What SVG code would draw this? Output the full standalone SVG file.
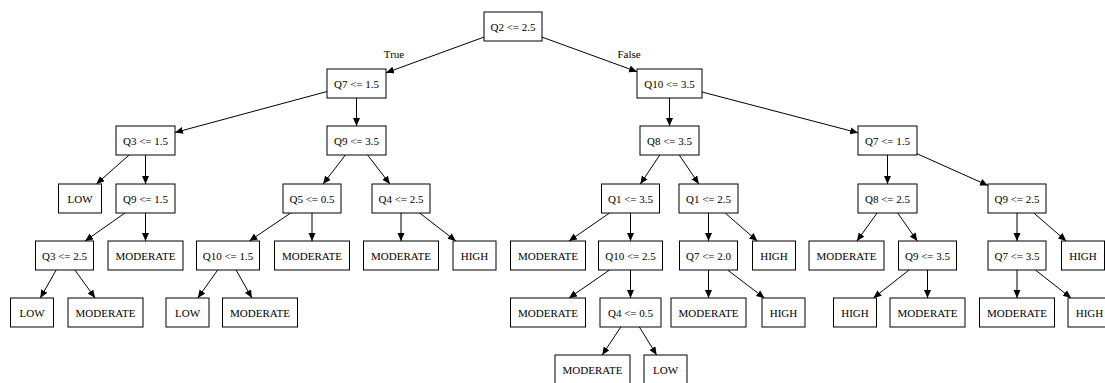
<svg xmlns="http://www.w3.org/2000/svg" width="1105" height="383" viewBox="0 0 1105 383">
  <style>
    .node rect { fill: #ffffff; stroke: #000000; stroke-width: 1; }
    .node text { font-family: "Liberation Serif", "Times New Roman", serif; font-size: 11px; fill: #000000; text-anchor: middle; }
    .edges line { stroke: #000000; stroke-width: 1; marker-end: url(#arrow); }
    .edges text { font-family: "Liberation Serif", "Times New Roman", serif; font-size: 11px; fill: #000000; text-anchor: middle; }
  </style>
  <defs>
    <marker id="arrow" markerUnits="userSpaceOnUse" markerWidth="9" markerHeight="8" refX="8" refY="3.5" orient="auto">
      <path d="M0,0 L8,3.5 L0,7 Z" fill="#000000"/>
    </marker>
  </defs>
  <rect x="0" y="0" width="1105" height="383" fill="#ffffff"/>

  <g id="edges" class="edges">
    <line x1="484" y1="37.1" x2="386" y2="72.8"/>
    <line x1="542" y1="37.1" x2="637" y2="71.7"/>
    <text x="394" y="58">True</text>
    <text x="629" y="58">False</text>
    <line x1="327" y1="91.5" x2="175" y2="132.5"/>
    <line x1="356.5" y1="98" x2="356.5" y2="126"/>
    <line x1="669.5" y1="98" x2="669.5" y2="126"/>
    <line x1="702" y1="92" x2="858" y2="132.8"/>
    <line x1="129.1" y1="155" x2="96.4" y2="184"/>
    <line x1="145.5" y1="155" x2="145.5" y2="184"/>
    <line x1="345.4" y1="155" x2="323.1" y2="184"/>
    <line x1="367.6" y1="155" x2="389.9" y2="184"/>
    <line x1="659.8" y1="155" x2="640.3" y2="184"/>
    <line x1="679.3" y1="155" x2="698.8" y2="184"/>
    <line x1="887.5" y1="155" x2="887.5" y2="184"/>
    <line x1="917" y1="153.7" x2="988" y2="185.5"/>
    <line x1="124.9" y1="213" x2="85.1" y2="241"/>
    <line x1="145.5" y1="213" x2="145.5" y2="241"/>
    <line x1="290.6" y1="213" x2="249.4" y2="241"/>
    <line x1="312" y1="213" x2="312" y2="241"/>
    <line x1="401" y1="213" x2="401" y2="241"/>
    <line x1="419.7" y1="213" x2="455.8" y2="241"/>
    <line x1="609.5" y1="213" x2="569" y2="241"/>
    <line x1="630.5" y1="213" x2="630.5" y2="241"/>
    <line x1="708.5" y1="213" x2="708.5" y2="241"/>
    <line x1="725.2" y1="213" x2="757.3" y2="241"/>
    <line x1="877.1" y1="213" x2="856.9" y2="241"/>
    <line x1="897.7" y1="213" x2="917.3" y2="241"/>
    <line x1="1017" y1="213" x2="1017" y2="241"/>
    <line x1="1033.8" y1="213" x2="1066.2" y2="241"/>
    <line x1="56.2" y1="270" x2="40.3" y2="298"/>
    <line x1="74.9" y1="270" x2="95.1" y2="298"/>
    <line x1="217.7" y1="270" x2="197.8" y2="298"/>
    <line x1="236.1" y1="270" x2="251.9" y2="298"/>
    <line x1="609.5" y1="270" x2="569" y2="298"/>
    <line x1="630.5" y1="270" x2="630.5" y2="298"/>
    <line x1="708.5" y1="270" x2="708.5" y2="298"/>
    <line x1="727.6" y1="270" x2="764.4" y2="298"/>
    <line x1="909.1" y1="270" x2="873.4" y2="298"/>
    <line x1="927.5" y1="270" x2="927.5" y2="298"/>
    <line x1="1017" y1="270" x2="1017" y2="298"/>
    <line x1="1035.4" y1="270" x2="1071.1" y2="298"/>
    <line x1="620.8" y1="327" x2="602.2" y2="355"/>
    <line x1="639.4" y1="327" x2="656.6" y2="355"/>
  </g>

  <!-- level 0 -->
  <g id="n0" class="node"><rect x="484" y="12" width="58" height="29"/><text x="513" y="30.5">Q2 &lt;= 2.5</text></g>
  <!-- level 1 -->
  <g id="n1" class="node"><rect x="327" y="69" width="59" height="29"/><text x="356.5" y="87.5">Q7 &lt;= 1.5</text></g>
  <g id="n2" class="node"><rect x="637" y="69" width="65" height="29"/><text x="669.5" y="87.5">Q10 &lt;= 3.5</text></g>
  <!-- level 2 -->
  <g id="n3" class="node"><rect x="116" y="126" width="59" height="29"/><text x="145.5" y="144.5">Q3 &lt;= 1.5</text></g>
  <g id="n4" class="node"><rect x="327" y="126" width="59" height="29"/><text x="356.5" y="144.5">Q9 &lt;= 3.5</text></g>
  <g id="n5" class="node"><rect x="640" y="126" width="59" height="29"/><text x="669.5" y="144.5">Q8 &lt;= 3.5</text></g>
  <g id="n6" class="node"><rect x="858" y="126" width="59" height="29"/><text x="887.5" y="144.5">Q7 &lt;= 1.5</text></g>
  <!-- level 3 -->
  <g id="n7" class="node"><rect x="58.5" y="184" width="43" height="29"/><text x="80" y="202.5">LOW</text></g>
  <g id="n8" class="node"><rect x="116" y="184" width="59" height="29"/><text x="145.5" y="202.5">Q9 &lt;= 1.5</text></g>
  <g id="n9" class="node"><rect x="283" y="184" width="58" height="29"/><text x="312" y="202.5">Q5 &lt;= 0.5</text></g>
  <g id="n10" class="node"><rect x="372" y="184" width="58" height="29"/><text x="401" y="202.5">Q4 &lt;= 2.5</text></g>
  <g id="n11" class="node"><rect x="601.5" y="184" width="58" height="29"/><text x="630.5" y="202.5">Q1 &lt;= 3.5</text></g>
  <g id="n12" class="node"><rect x="679" y="184" width="59" height="29"/><text x="708.5" y="202.5">Q1 &lt;= 2.5</text></g>
  <g id="n13" class="node"><rect x="858" y="184" width="59" height="29"/><text x="887.5" y="202.5">Q8 &lt;= 2.5</text></g>
  <g id="n14" class="node"><rect x="988" y="184" width="58" height="29"/><text x="1017" y="202.5">Q9 &lt;= 2.5</text></g>
  <!-- level 4 -->
  <g id="n15" class="node"><rect x="35.5" y="241" width="58" height="29"/><text x="64.5" y="259.5">Q3 &lt;= 2.5</text></g>
  <g id="n16" class="node"><rect x="108" y="241" width="75" height="29"/><text x="145.5" y="259.5">MODERATE</text></g>
  <g id="n17" class="node"><rect x="196.5" y="241" width="63" height="29"/><text x="228" y="259.5">Q10 &lt;= 1.5</text></g>
  <g id="n18" class="node"><rect x="274.5" y="241" width="75" height="29"/><text x="312" y="259.5">MODERATE</text></g>
  <g id="n19" class="node"><rect x="363.5" y="241" width="75" height="29"/><text x="401" y="259.5">MODERATE</text></g>
  <g id="n20" class="node"><rect x="453" y="241" width="43" height="29"/><text x="474.5" y="259.5">HIGH</text></g>
  <g id="n21" class="node"><rect x="510.5" y="241" width="75" height="29"/><text x="548" y="259.5">MODERATE</text></g>
  <g id="n22" class="node"><rect x="598.5" y="241" width="64" height="29"/><text x="630.5" y="259.5">Q10 &lt;= 2.5</text></g>
  <g id="n23" class="node"><rect x="679.5" y="241" width="58" height="29"/><text x="708.5" y="259.5">Q7 &lt;= 2.0</text></g>
  <g id="n24" class="node"><rect x="752.5" y="241" width="43" height="29"/><text x="774" y="259.5">HIGH</text></g>
  <g id="n25" class="node"><rect x="809" y="241" width="75" height="29"/><text x="846.5" y="259.5">MODERATE</text></g>
  <g id="n26" class="node"><rect x="898.5" y="241" width="58" height="29"/><text x="927.5" y="259.5">Q9 &lt;= 3.5</text></g>
  <g id="n27" class="node"><rect x="988" y="241" width="58" height="29"/><text x="1017" y="259.5">Q7 &lt;= 3.5</text></g>
  <g id="n28" class="node"><rect x="1061.5" y="241" width="43" height="29"/><text x="1083" y="259.5">HIGH</text></g>
  <!-- level 5 -->
  <g id="n29" class="node"><rect x="10.5" y="298" width="43" height="29"/><text x="32" y="316.5">LOW</text></g>
  <g id="n30" class="node"><rect x="68" y="298" width="75" height="29"/><text x="105.5" y="316.5">MODERATE</text></g>
  <g id="n31" class="node"><rect x="166" y="298" width="43" height="29"/><text x="187.5" y="316.5">LOW</text></g>
  <g id="n32" class="node"><rect x="222.5" y="298" width="75" height="29"/><text x="260" y="316.5">MODERATE</text></g>
  <g id="n33" class="node"><rect x="510.5" y="298" width="75" height="29"/><text x="548" y="316.5">MODERATE</text></g>
  <g id="n34" class="node"><rect x="600" y="298" width="61" height="29"/><text x="630.5" y="316.5">Q4 &lt;= 0.5</text></g>
  <g id="n35" class="node"><rect x="671" y="298" width="75" height="29"/><text x="708.5" y="316.5">MODERATE</text></g>
  <g id="n36" class="node"><rect x="762" y="298" width="43" height="29"/><text x="783.5" y="316.5">HIGH</text></g>
  <g id="n37" class="node"><rect x="833.5" y="298" width="43" height="29"/><text x="855" y="316.5">HIGH</text></g>
  <g id="n38" class="node"><rect x="890" y="298" width="75" height="29"/><text x="927.5" y="316.5">MODERATE</text></g>
  <g id="n39" class="node"><rect x="979.5" y="298" width="75" height="29"/><text x="1017" y="316.5">MODERATE</text></g>
  <g id="n40" class="node"><rect x="1068" y="298" width="43" height="29"/><text x="1089.5" y="316.5">HIGH</text></g>
  <!-- level 6 -->
  <g id="n41" class="node"><rect x="555" y="355" width="75" height="29"/><text x="592.5" y="373.5">MODERATE</text></g>
  <g id="n42" class="node"><rect x="644" y="355" width="43" height="29"/><text x="665.5" y="373.5">LOW</text></g>
</svg>
